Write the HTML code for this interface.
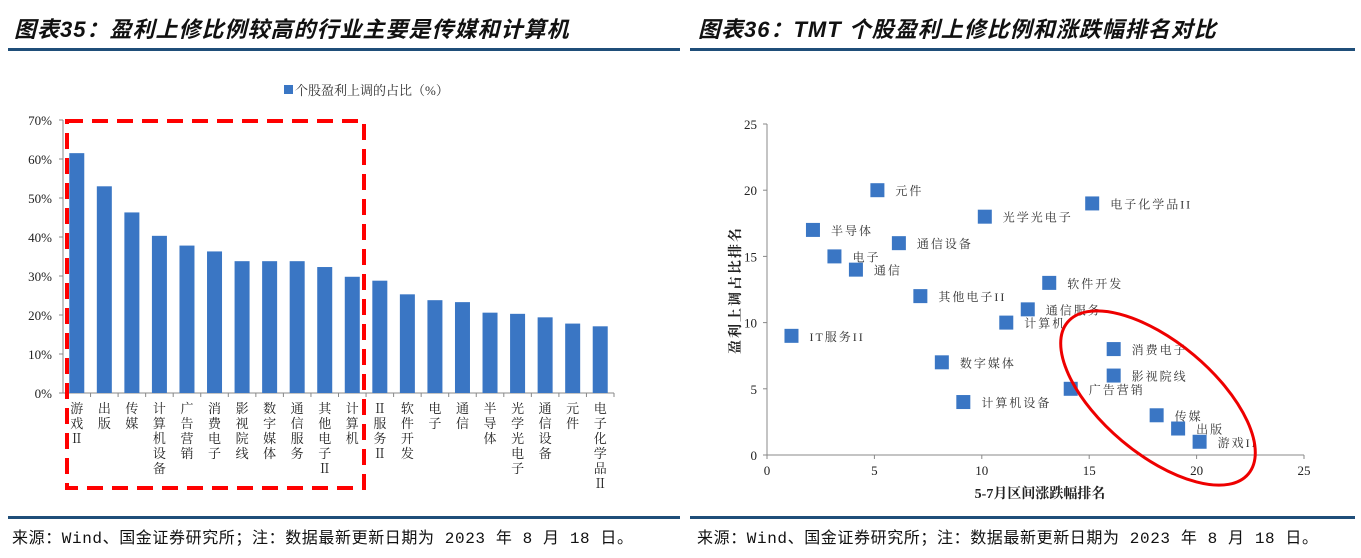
<!DOCTYPE html>
<html><head><meta charset="utf-8"><style>
body{margin:0;width:1361px;height:558px;background:#fff;position:relative;overflow:hidden;font-family:"Liberation Serif","Noto Serif CJK SC",serif;}
.title{position:absolute;top:12px;font:italic bold 22px "Liberation Sans","Noto Sans CJK SC",sans-serif;color:#111;letter-spacing:1px;}
.rule{position:absolute;height:3px;background:#1f4e79;}
.foot{position:absolute;top:524px;font-size:16px;color:#111;font-family:"Liberation Mono","Noto Sans CJK SC",monospace;letter-spacing:0.6px;}
svg{position:absolute;left:0;top:0;}
</style></head><body>
<div class="title" style="left:14px">图表35：盈利上修比例较高的行业主要是传媒和计算机</div>
<div class="title" style="left:698px">图表36：TMT 个股盈利上修比例和涨跌幅排名对比</div>
<div class="rule" style="left:8px;width:672px;top:48px"></div>
<div class="rule" style="left:690px;width:665px;top:48px"></div>
<div class="rule" style="left:8px;width:672px;top:516px"></div>
<div class="rule" style="left:690px;width:665px;top:516px"></div>
<div class="foot" style="left:12px">来源：Wind、国金证券研究所；注：数据最新更新日期为 2023 年 8 月 18 日。</div>
<div class="foot" style="left:697px">来源：Wind、国金证券研究所；注：数据最新更新日期为 2023 年 8 月 18 日。</div>
<svg id="svg" width="1361" height="558"></svg>
<script>
const barCats=["游戏II","出版","传媒","计算机设备","广告营销","消费电子","影视院线","数字媒体","通信服务","其他电子II","计算机","IT服务II","软件开发","电子","通信","半导体","光学光电子","通信设备","元件","电子化学品II"];
const barVals=[61.5,53,46.3,40.3,37.8,36.3,33.8,33.8,33.8,32.3,29.8,28.8,25.3,23.8,23.3,20.6,20.3,19.4,17.8,17.1];
const barTicks=[0,10,20,30,40,50,60,70];
const ptNames=["元件","电子化学品II","光学光电子","半导体","通信设备","电子","通信","软件开发","其他电子II","通信服务","计算机","IT服务II","消费电子","数字媒体","影视院线","广告营销","计算机设备","传媒","出版","游戏II"];
const ptX=[5,15,10,2,6,3,4,13,7,12,11,1,16,8,16,14,9,18,19,20];
const ptY=[20,19,18,17,16,15,14,13,12,11,10,9,8,7,6,5,4,3,2,1];
const sTicks=[0,5,10,15,20,25];
const svg=document.getElementById('svg');const NS='http://www.w3.org/2000/svg';
function mk(t,a,p){const e=document.createElementNS(NS,t);for(const k in a)e.setAttribute(k,a[k]);(p||svg).appendChild(e);return e;}
const BL=63,BR=614,BT=120,BB=393;
const by=v=>BB-(v/70)*(BB-BT);const bw=(BR-BL)/barCats.length;
barTicks.forEach(t=>{const tx=mk('text',{x:52,y:by(t)+5,'text-anchor':'end','font-size':13,fill:'#222'});tx.textContent=t+'%';


mk('line',{x1:BL-4,x2:BL,y1:by(t),y2:by(t),stroke:'#888'});});
mk('line',{x1:BL,x2:BL,y1:BT,y2:BB,stroke:'#888'});
mk('line',{x1:BL,x2:BR,y1:BB,y2:BB,stroke:'#888'});
barVals.forEach((v,i)=>{const cx=BL+bw*(i+0.5);const r=mk('rect',{x:cx-7.5,y:by(v),width:15,height:BB-by(v),fill:'#3a76c4'});


mk('line',{x1:BL+bw*(i+1),x2:BL+bw*(i+1),y1:BB,y2:BB+4,stroke:'#888'});
const t=mk('text',{x:cx,y:413,'text-anchor':'middle','font-size':13,fill:'#222','font-family':'"Liberation Serif","Noto Serif CJK SC",serif'});


const chars=barCats[i].replace('II','Ⅱ').replace('IT','Ⅱ').split('');chars.forEach((c,k)=>{const ts=mk('tspan',{x:cx,dy:k?15:0},t);ts.textContent=c;});});
const lg=mk('rect',{x:284,y:85,width:9,height:9,fill:'#3a76c4'});


const lt=mk('text',{x:295,y:95,'font-size':13,fill:'#333'});lt.textContent='个股盈利上调的占比（%）';


const dr=mk('rect',{x:67,y:121,width:297,height:367,fill:'none',stroke:'#f00','stroke-width':4,'stroke-dasharray':'16,9'});


const SL=767,SR=1304,ST=124,SB=455;
const sx=v=>SL+v/25*(SR-SL),sy=v=>SB-v/25*(SB-ST);
mk('line',{x1:SL,x2:SL,y1:ST,y2:SB,stroke:'#888'});mk('line',{x1:SL,x2:SR,y1:SB,y2:SB,stroke:'#888'});
sTicks.forEach(t=>{mk('line',{x1:SL-4,x2:SL,y1:sy(t),y2:sy(t),stroke:'#888'});mk('line',{x1:sx(t),x2:sx(t),y1:SB,y2:SB+4,stroke:'#888'});
const a=mk('text',{x:SL-10,y:sy(t)+5,'text-anchor':'end','font-size':13,fill:'#222'});a.textContent=t;


const b=mk('text',{x:sx(t),y:SB+20,'text-anchor':'middle','font-size':13,fill:'#222'});b.textContent=t;

});
ptNames.forEach((n,i)=>{const px=sx(ptX[i])+3,py=sy(ptY[i]);const r=mk('rect',{x:px-7,y:py-7,width:14,height:14,fill:'#3a76c4'});


const t=mk('text',{x:px+18,y:py+5,'font-size':12,fill:'#333','letter-spacing':'2'});t.textContent=n;

});
const xt=mk('text',{x:1040,y:498,'text-anchor':'middle','font-size':14,'font-weight':'bold',fill:'#222'});xt.textContent='5-7月区间涨跌幅排名';


const yt=mk('text',{x:0,y:0,'text-anchor':'middle','font-size':14,'font-weight':'bold',fill:'#222',transform:'translate(740,290) rotate(-90)','letter-spacing':'2'});yt.textContent='盈利上调占比排名';


const el=mk('ellipse',{cx:1158,cy:398,rx:118,ry:56,fill:'none',stroke:'#e00','stroke-width':3,transform:'rotate(40 1158 398)'});


</script>
</body></html>
